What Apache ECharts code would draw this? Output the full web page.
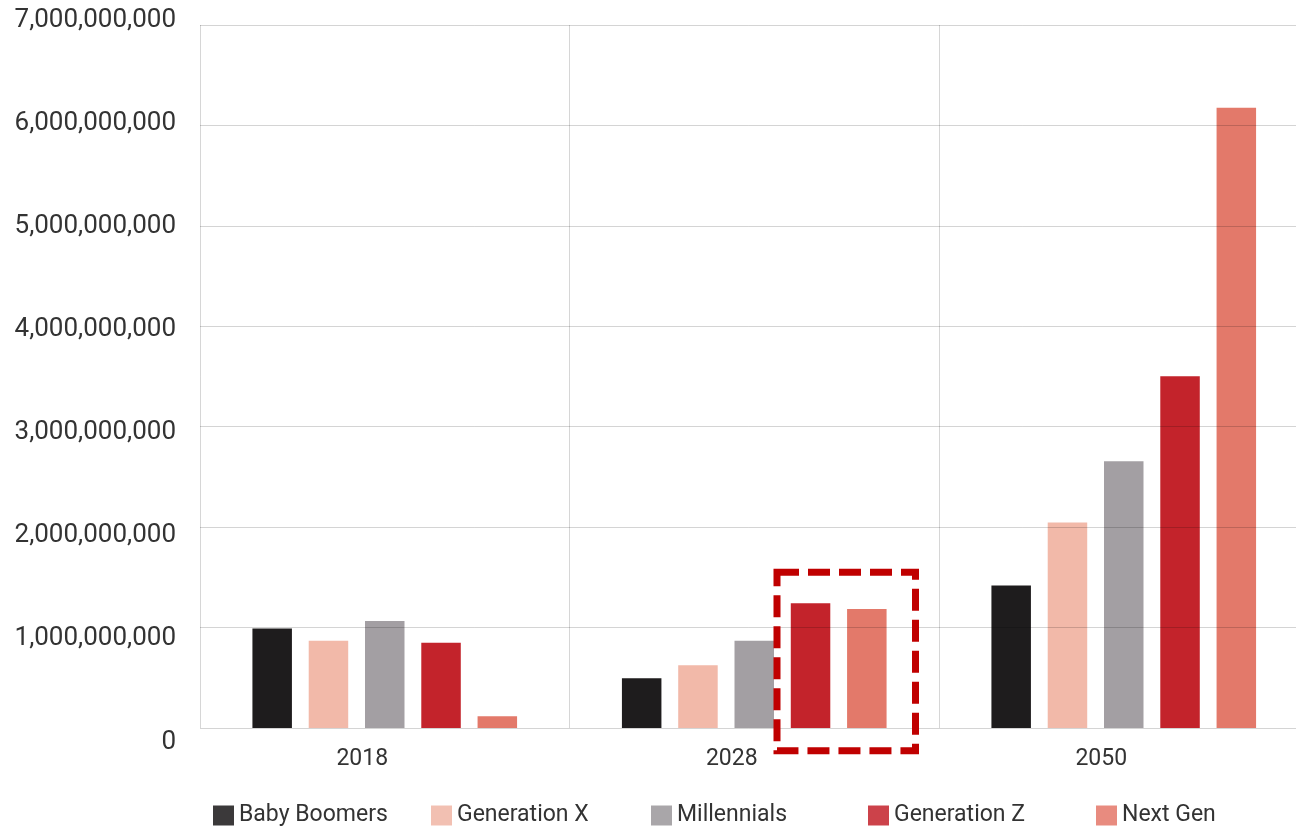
<!DOCTYPE html>
<html>
<head>
<meta charset="utf-8">
<script src="https://cdn.jsdelivr.net/npm/echarts@6/dist/echarts.min.js"></script>
<style>
  html, body { margin: 0; padding: 0; background: #ffffff; }
  #chart { width: 1296px; height: 827px; }
</style>
</head>
<body>
<div id="chart"></div>
<script>
// ---- data ----
const categories = ['2018', '2028', '2050'];
const seriesNames = ['Baby Boomers', 'Generation X', 'Millennials', 'Generation Z', 'Next Gen'];
const babyBoomers = [0.99e9, 0.495e9, 1.42e9];
const generationX = [0.87e9, 0.625e9, 2.045e9];
const millennials = [1.066e9, 0.868e9, 2.655e9];
const generationZ = [0.848e9, 1.242e9, 3.502e9];
const nextGen = [0.117e9, 1.186e9, 6.175e9];
const yTicks = [0, 1e9, 2e9, 3e9, 4e9, 5e9, 6e9, 7e9];

// ---- styles ----
const barColors = ['#1e1c1d', '#f2b9a9', '#a39fa3', '#c3232b', '#e3796a'];
const legendColors = ['#3b393a', '#f2c0b2', '#a9a6a9', '#cc424a', '#e88b7f'];
const legendLefts = [213, 431, 651, 868, 1096];
const FONT = 'Roboto';
const TEXT = '#333333';

const values = [babyBoomers, generationX, millennials, generationZ, nextGen];

function fmt(v) {
  return String(Math.round(v)).replace(/\B(?=(\d{3})+(?!\d))/g, ',');
}

const chart = echarts.init(document.getElementById('chart'), null, { renderer: 'canvas' });

const option = {
  backgroundColor: '#ffffff',
  animation: false,
  grid: [
    { left: 200, width: 1108.5, top: 25, bottom: 99, containLabel: false, outerBoundsMode: 'none' },
    { left: 200, width: 1108.5, top: 20, bottom: 85, containLabel: false, outerBoundsMode: 'none' }
  ],
  xAxis: [
    {
      type: 'category', gridIndex: 0, data: categories,
      axisLine: { show: false }, axisTick: { show: false },
      splitLine: { show: true, lineStyle: { color: 'rgba(0,0,0,0.16)', width: 1 } },
      axisLabel: { fontFamily: FONT, fontSize: 23, color: TEXT, margin: 20, padding: [0, 45, 0, 0] }
    },
    { type: 'value', gridIndex: 1, show: false }
  ],
  yAxis: [
    {
      type: 'value', gridIndex: 0, min: 0, max: 7e9, interval: 1e9, z: 5,
      axisLine: { show: false }, axisTick: { show: false },
      axisLabel: { show: false },
      splitLine: { show: true, lineStyle: { color: 'rgba(0,0,0,0.17)', width: 1 } }
    },
    {
      type: 'value', gridIndex: 1, min: yTicks[0], max: yTicks[yTicks.length - 1], interval: 1e9,
      axisLine: { show: false }, axisTick: { show: false }, splitLine: { show: false },
      axisLabel: { fontFamily: FONT, fontSize: 26, color: TEXT, margin: 24, formatter: fmt }
    }
  ],
  legend: seriesNames.map((n, i) => ({
    data: [{ name: n, itemStyle: { color: legendColors[i] } }],
    left: legendLefts[i], top: 804, padding: 0,
    itemWidth: 21, itemHeight: 20, icon: 'rect',
    textStyle: { fontFamily: FONT, fontSize: 23, color: TEXT },
    selectedMode: false
  })),
  series: seriesNames.map((n, i) => ({
    name: n, type: 'bar', xAxisIndex: 0, yAxisIndex: 0,
    data: values[i], barWidth: 39.5, barGap: '42.5%',
    itemStyle: { color: barColors[i] }, z: 2
  }))
};
chart.setOption(option);

// ---- dashed highlight box around 2028 Gen Z / Next Gen ----
const highlight = { category: '2028', top: 1.55e9, bottom: -0.227e9, leftOff: 22.75, rightOff: 161.25 };
const cx = chart.convertToPixel({ xAxisIndex: 0 }, highlight.category);
const yTop = chart.convertToPixel({ yAxisIndex: 0 }, highlight.top);
const yBot = chart.convertToPixel({ yAxisIndex: 0 }, highlight.bottom);
chart.setOption({
  graphic: [{
    type: 'rect', z: 100,
    shape: { x: cx + highlight.leftOff, y: yTop, width: highlight.rightOff - highlight.leftOff, height: yBot - yTop },
    style: { fill: null, stroke: '#c00000', lineWidth: 7, lineDash: [22, 9] }
  }]
});
</script>
</body>
</html>
